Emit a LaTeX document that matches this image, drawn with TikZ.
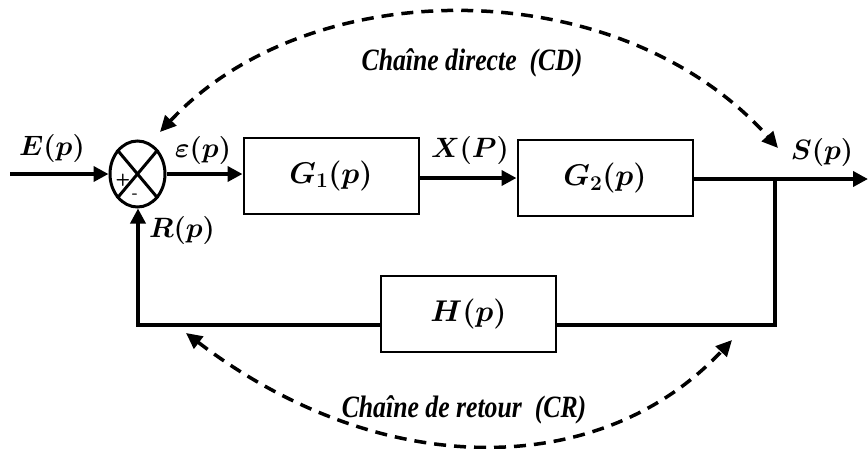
\RequirePackage{fix-cm}
\documentclass[tikz,border=0pt]{standalone}
\usepackage{fontspec}
\usepackage{amsmath}
\usepackage{graphicx}
\usetikzlibrary{arrows.meta,shapes.geometric}
\newfontfamily\tnr{Liberation Serif}
\newcommand\captxt[1]{\scalebox{0.83}[1]{#1}}
\tikzset{
  lbl/.style={font=\fontsize{28}{32}\selectfont\boldmath, inner sep=0pt},
  blk/.style={draw, line width=2pt, minimum width=175pt, minimum height=76pt, inner sep=0pt, font=\fontsize{30}{34}\selectfont\boldmath},
  sumj/.style={draw, ellipse, line width=3pt, minimum width=55pt, minimum height=66pt, inner sep=0pt},
  mainarr/.style={line width=4pt, -{Triangle[length=15pt,width=15pt]}},
  fbline/.style={line width=3.5pt},
  dsh/.style={line width=3.5pt, dash pattern=on 12pt off 8pt, {Triangle[length=16pt,width=15pt]}-{Triangle[length=16pt,width=15pt]}},
  chaincap/.style={font=\tnr\bfseries\itshape\fontsize{31}{34}\selectfont, inner sep=0pt},
  sgn/.style={font=\sffamily\bfseries\fontsize{17}{19}\selectfont, inner sep=0pt}
}
\begin{document}
\begin{tikzpicture}[x=1pt,y=-1pt]
\useasboundingbox (0,0) rectangle (868,448);
% summing junction
\node[sumj] (S) at (137.5,174) {};
\draw[line width=3pt] (S.north west) -- (S.south east);
\draw[line width=3pt] (S.north east) -- (S.south west);
\node[sgn] (plus) at (123,180) {+};
\node[sgn] (minus) at (135,196) {-};
% blocks
\node[blk] (G1) at (331,175.5) {$G_1(p)$};
\node[blk] (G2) at (605,178) {$G_2(p)$};
\node[blk] (H) at (468.5,313.5) {$H(p)$};
% coordinates
\coordinate (in) at (10,174);
\coordinate (out) at (868,179);
\coordinate (br) at (775,179);
\coordinate (brb) at (775,325);
\coordinate (bl) at (138,325);
% forward path
\draw[mainarr] (in) -- (S.west);
\draw[mainarr] (S.east) -- (S.east -| G1.west);
\draw[mainarr] (G1.east |- G2.west) -- (G2.west);
\draw[mainarr] (G2.east |- out) -- (out);
% feedback path
\draw[fbline, line join=miter] (br) -- (brb) -- (brb -| H.east);
\draw[fbline, line join=miter, -{Triangle[length=15pt,width=15pt]}] (H.west |- bl) -- (bl) -- (bl |- S.south);
% labels
\node[lbl] (Elab) at (52,148) {$E(p)$};
\node[lbl] (eps) at (203,150) {$\varepsilon(p)$};
\node[lbl] (Xlab) at (470,150) {$X(P)$};
\node[lbl] (Slab) at (822,152) {$S(p)$};
\node[lbl] (Rlab) at (182,230) {$R(p)$};
% chains
\coordinate (cd1) at (160,132);
\coordinate (cd2) at (778,148);
\draw[dsh] (cd1) .. controls (310,-29) and (620,-29) .. (cd2);
\node[chaincap] (cdtxt) at (472,63) {\captxt{Chaîne directe\ \ (CD)}};
\coordinate (cr1) at (186,333);
\coordinate (cr2) at (732,340);
\draw[dsh] (cr1) .. controls (380,481) and (600,481) .. (cr2);
\node[chaincap] (crtxt) at (464,410) {\captxt{Chaîne de retour\ \ (CR)}};
\end{tikzpicture}
\end{document}
